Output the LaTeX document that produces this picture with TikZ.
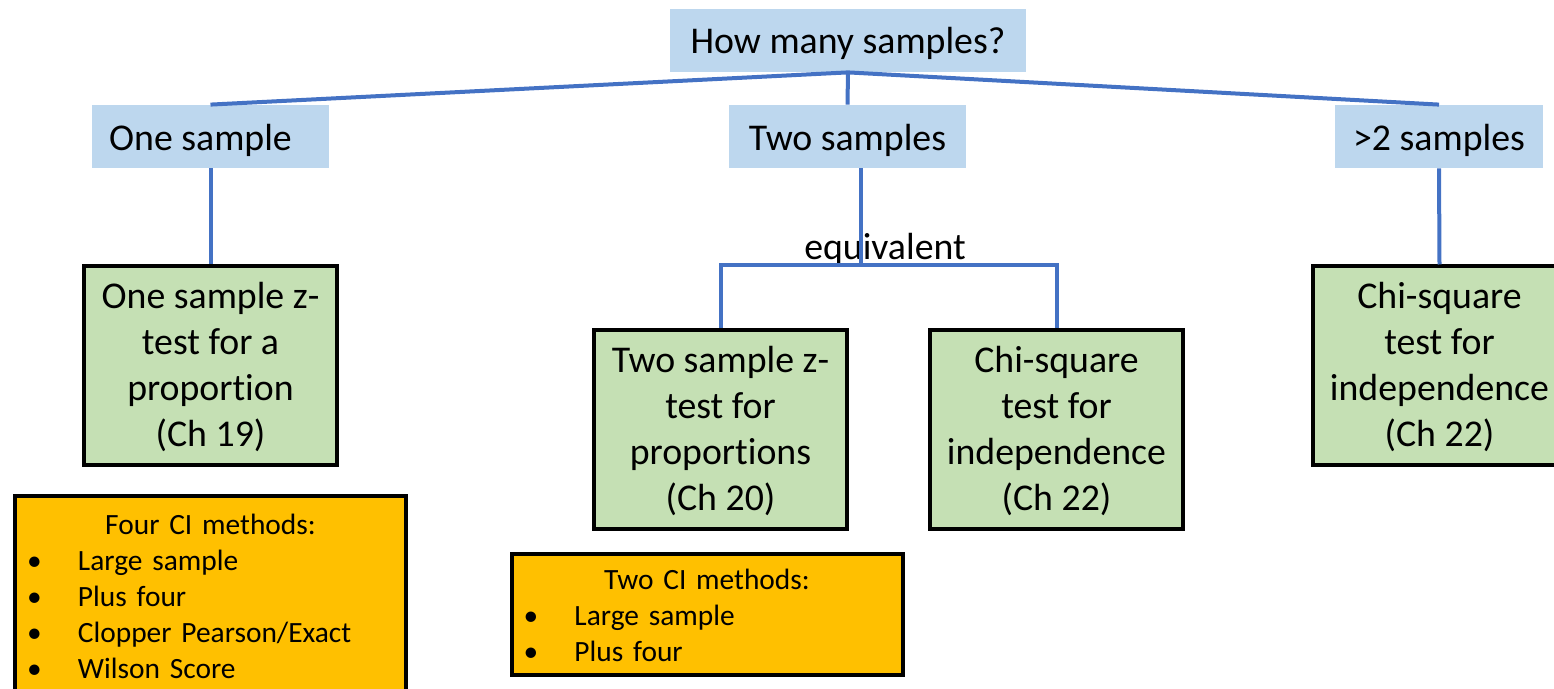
\documentclass[tikz,border=0pt]{standalone}
\usepackage{fontspec}
\setmainfont{Carlito}[Ligatures=NoCommon]
\usepackage{tikz}
\usetikzlibrary{positioning,calc}

\definecolor{qblue}{HTML}{BDD7EE}
\definecolor{testgreen}{HTML}{C5E0B4}
\definecolor{ciorange}{HTML}{FFC000}
\definecolor{linkblue}{HTML}{4472C4}

\newcommand{\bigfont}{\fontsize{18.9}{23}\selectfont}
\newcommand{\smallfont}{\fontsize{14.7}{18}\selectfont}
\newcommand{\cihead}[1]{\makebox[183.5pt]{#1}}
\newcommand{\cibullet}[1]{\makebox[25.5pt][l]{\textbullet}#1}

\begin{document}
\begin{tikzpicture}[x=0.5pt,y=-0.5pt,
    qbox/.style={fill=qblue, inner sep=0pt, font=\bigfont, minimum height=31.5pt,
      text height=14.5pt, text depth=0pt},
    testbox/.style={draw=black, line width=2pt, fill=testgreen, align=center,
      font=\bigfont, inner sep=0pt, minimum width=126.5pt, minimum height=99.5pt,
      text depth=1.5pt},
    cibox/.style={draw=black, line width=2pt, fill=ciorange, align=left,
      font=\smallfont, inner xsep=6pt, inner ysep=0pt, text width=183.5pt},
    link/.style={draw=linkblue, line width=2pt}]
  \useasboundingbox (0,0) rectangle (1554,689);

  % question and the three cases
  \node[qbox, minimum width=178pt, text height=13pt] (q) at (848,40.5) {How many samples?};
  \node[qbox, minimum width=118.5pt] (one) at (210.5,136.5) {One sample\hspace*{10pt}};
  \node[qbox, minimum width=118.5pt] (two) at (847.5,136.5) {Two samples};
  \node[qbox, minimum width=104pt] (more) at (1439,136.5) {>2 samples};

  % tests
  \node[testbox] (zone) at (210.5,365.5) {One sample z-\\test for a\\proportion\\(Ch 19)};
  \node[testbox] (ztwo) at (720.5,429.5) {Two sample z-\\test for\\proportions\\(Ch 20)};
  \node[testbox] (chimid) at (1056.5,429.5) {Chi-square\\test for\\independence\\(Ch 22)};
  \node[testbox] (chimore) at (1439.5,366) {Chi-square\\test for\\independence\\(Ch 22)};

  % CI methods
  \node[cibox, minimum height=100.5pt] (cione) at (210.5,596.5)
    {\cihead{Four CI methods:}\\\cibullet{Large sample}\\\cibullet{Plus four}\\
     \cibullet{Clopper Pearson/Exact}\\\cibullet{Wilson Score}};
  \node[cibox, minimum height=60.5pt, text depth=35pt] (citwo) at (707,614.5)
    {\cihead{Two CI methods:}\\\cibullet{Large sample}\\\cibullet{Plus four}};

  \node[anchor=base, font=\bigfont] (eqlabel) at (885,260) {equivalent};
  \coordinate (eq) at (861,265);

  % connectors
  \draw[link] (q.south) -- (one.north);
  \draw[link] (q.south) -- (two.north);
  \draw[link] (q.south) -- (more.north);
  \draw[link] (one.south) -- (zone.north);
  \draw[link] (more.south) -- (chimore.north);
  \draw[link] (two.south -| eq) -- (eq);
  \draw[link] (ztwo.north) |- (eq) -| (chimid.north);
\end{tikzpicture}
\end{document}
